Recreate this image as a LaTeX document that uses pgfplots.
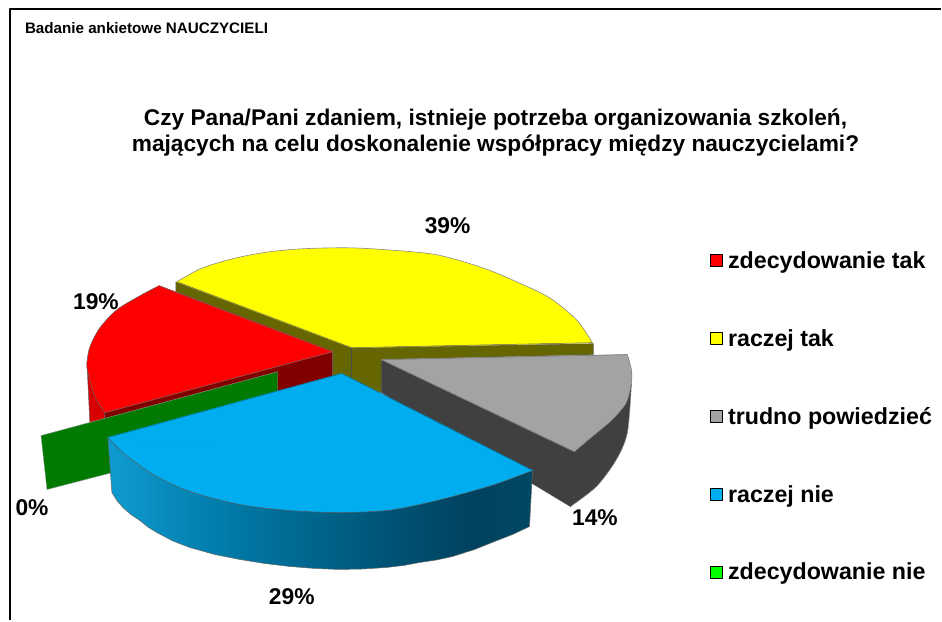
\documentclass[border=0pt]{standalone}
\usepackage{pgfplots}
\usepackage{fontspec}
\setmainfont{Liberation Sans}
\pgfplotsset{compat=1.18}
\definecolor{yellowc}{rgb}{1,1,0}
\definecolor{olivec}{HTML}{666600}
\definecolor{darkred}{HTML}{800000}
\definecolor{sidered}{HTML}{D80000}
\definecolor{greenc}{HTML}{007A00}
\definecolor{greenl}{rgb}{0,1,0}
\definecolor{grayc}{HTML}{A3A3A3}
\definecolor{darkgrayc}{HTML}{404040}
\definecolor{bluec}{HTML}{00AEEF}
\definecolor{bs1}{HTML}{0F9BD0}
\definecolor{bs2}{HTML}{0078A5}
\definecolor{bs3}{HTML}{005578}
\definecolor{bs4}{HTML}{00425E}
\definecolor{bs5}{HTML}{004864}
\pgfdeclarehorizontalshading{blueside}{100bp}{
  color(0bp)=(bs1);color(25bp)=(bs1);color(40bp)=(bs2);color(57bp)=(bs3);color(68bp)=(bs4);color(75bp)=(bs5);color(100bp)=(bs5)}
\begin{document}
\begin{tikzpicture}[line join=round]
\begin{axis}[
  width=942pt,height=621pt,scale only axis,
  xmin=0,xmax=942,ymin=0,ymax=621,y dir=reverse,
  hide axis,clip=false,
  legend image code/.code={\draw[#1,line width=1.1pt] (0pt,-6pt) rectangle (12pt,6pt);\path (15pt,0pt);},
  legend cell align=left,
  legend style={at={(axis cs:711,250)},anchor=north west,draw=none,fill=none,inner sep=0pt,outer sep=0pt,
    font=\fontsize{23.25}{26}\selectfont\bfseries,row sep=55.5pt},
]
% page extent
\addplot[draw=none,forget plot] coordinates {(0,0)(942,621)};
% frame
\addplot[black,line width=1.8pt,forget plot] coordinates {(10,621)(10,9)(942,9)};
% yellow 39%
\addplot[fill=olivec,draw=black!60,line width=.5pt,forget plot] coordinates {(176,282)(176,292)(333,352)(333,385)(352,385)(382,393)(382,360)(594,355)(594,344)(352,348)} -- cycle;
\addplot[smooth,fill=yellowc,draw=black!45,line width=.6pt,forget plot] coordinates {(177,282)(203,268)(237,258)(270,252)(303,249)(347,248)(387,250)(437,255)(483,268)(517,282)(550,298)(577,320)(593,343)};
\addplot[fill=yellowc,draw=yellowc,line width=.8pt,line join=round,forget plot] coordinates {(352,348)(177,282)(593,343)} -- cycle;
\addplot[black!65,line width=.5pt,forget plot] coordinates {(177,282)(352,348)(593,343)};
\addplot[black!70,line width=.5pt,forget plot] coordinates {(352,348)(352,378)};
% red 19%
\addplot[fill=sidered,draw=black!60,line width=.5pt,forget plot] coordinates {(87,363)(90,424)(105,420)(105,413)} -- cycle;
\addplot[fill=darkred,draw=black!60,line width=.5pt,forget plot] coordinates {(105,413)(333,352)(333,380)(105,441)} -- cycle;
\addplot[smooth,fill=red,draw=black!60,line width=.5pt,forget plot] coordinates {(159,286)(140,296)(117,310)(100,328)(90,347)(87,363)(88,373)(95,397)(105,413)};
\addplot[fill=red,draw=red,line width=.8pt,line join=round,forget plot] coordinates {(333,352)(159,286)(105,413)} -- cycle;
\addplot[black!60,line width=.5pt,forget plot] coordinates {(159,286)(333,352)(105,413)};
% green 0%
\addplot[fill=greenc,draw=black!40,line width=.4pt,forget plot] coordinates {(278,372)(41,436)(47,490)(278,430)} -- cycle;
% gray 14%
\addplot[fill=darkgrayc,draw=black!70,line width=.5pt,forget plot] coordinates {(382,360)(382,393)(571,507)(575,452)} -- cycle;
\addplot[smooth,fill=darkgrayc,draw=black!45,line width=.5pt,forget plot] coordinates {(632,385)(628,433)(617,460)(597,487)(571,507)};
\addplot[fill=darkgrayc,draw=darkgrayc,line width=.8pt,line join=round,forget plot] coordinates {(632,385)(571,507)(575,452)} -- cycle;
\addplot[smooth,fill=grayc,draw=black!55,line width=.5pt,forget plot] coordinates {(628,355)(632,370)(632,383)(627,403)(613,420)(593,437)(575,452)};
\addplot[fill=grayc,draw=grayc,line width=.8pt,line join=round,forget plot] coordinates {(382,360)(628,355)(575,452)} -- cycle;
\addplot[black!55,line width=.5pt,forget plot] coordinates {(628,355)(382,360)(575,452)};
\addplot[black!75,line width=.5pt,forget plot] coordinates {(575,452)(571,507)};
% blue 29%
\addplot[shade,shading=blueside,draw=black!60,line width=.5pt,forget plot] coordinates {(108,438)(125,448)(160,470)(190,487)(240,500)(290,506)(340,508)(387,506)(420,500)(453,492)(495,480)(533,471)(530,527)(513,535)(495,542)(475,550)(453,557)(437,560.5)(420,563)(404,566)(387,568)(364,569.5)(340,570)(315,569)(290,567)(265,564)(240,560)(215,555)(190,548)(173,541.5)(157,533)(148,527.5)(140,521)(131,515)(123,508)(117,501)(112,493)} -- cycle;
\addplot[smooth,fill=bluec,draw=black!65,line width=.5pt,forget plot] coordinates {(108,438)(123,453)(140,466)(157,477)(190,492)(240,505)(290,511)(340,513)(387,511)(420,505)(453,497)(495,485)(533,471)};
\addplot[fill=bluec,draw=bluec,line width=.8pt,line join=round,forget plot] coordinates {(342,374)(108,438)(533,471)} -- cycle;
\addplot[bluec!60!black,line width=.4pt,forget plot] coordinates {(108,438)(342,374)(533,471)};
% text
\node[font=\fontsize{15.2}{17}\selectfont\bfseries,anchor=west] at (axis cs:21.5,28) {Badanie ankietowe NAUCZYCIELI};
\node[font=\fontsize{22.7}{27}\selectfont\bfseries,anchor=base] at (axis cs:496,125.5) {Czy Pana/Pani zdaniem, istnieje potrzeba organizowania szkoleń,};
\node[font=\fontsize{22.7}{27}\selectfont\bfseries,anchor=base] at (axis cs:496,152) {mających na celu doskonalenie współpracy między nauczycielami?};
\node[font=\fontsize{22.8}{26}\selectfont\bfseries] at (axis cs:448,226) {39\%};
\node[font=\fontsize{22.8}{26}\selectfont\bfseries] at (axis cs:96,302) {19\%};
\node[font=\fontsize{22.8}{26}\selectfont\bfseries] at (axis cs:595.5,518) {14\%};
\node[font=\fontsize{22.8}{26}\selectfont\bfseries] at (axis cs:292,597) {29\%};
\node[font=\fontsize{22.8}{26}\selectfont\bfseries] at (axis cs:32,508) {0\%};
% legend
\addlegendimage{fill=red,draw=black}
\addlegendimage{fill=yellowc,draw=black}
\addlegendimage{fill=grayc,draw=black}
\addlegendimage{fill=bluec,draw=black}
\addlegendimage{fill=greenl,draw=black}
\legend{zdecydowanie tak,raczej tak,trudno powiedzieć,raczej nie,zdecydowanie nie}
\end{axis}
\end{tikzpicture}
\end{document}
